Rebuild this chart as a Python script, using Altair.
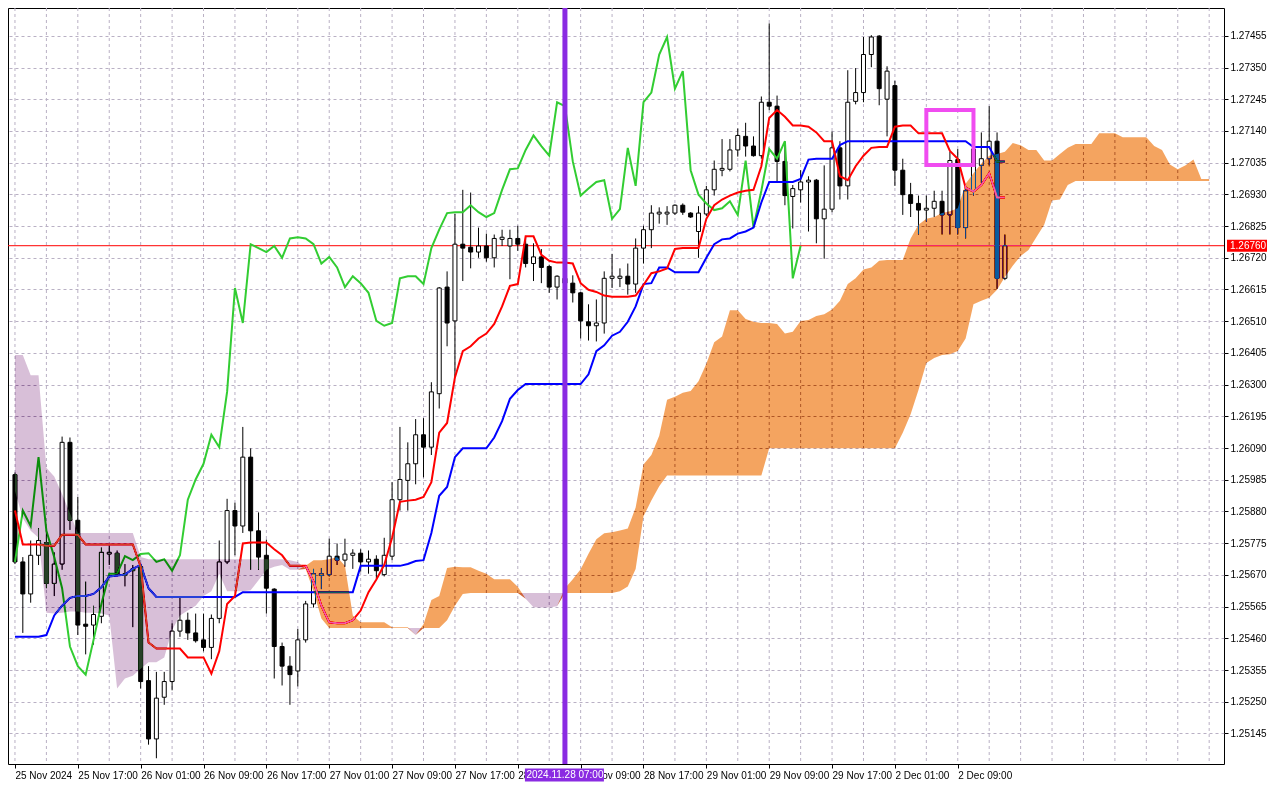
import altair as alt
import pandas as pd

W, H = 1216, 756

opens = [1.26002, 1.25713, 1.25607, 1.25735, 1.25777, 1.25642, 1.25706, 1.26109, 1.25851, 1.25507,
         1.25504, 1.25533, 1.25739, 1.25742, 1.25668, 1.25690, 1.25697, 1.25320, 1.25127, 1.25265,
         1.25317, 1.25484, 1.25520, 1.25478, 1.25455, 1.25430, 1.25526, 1.25713, 1.25883, 1.25832,
         1.26060, 1.25816, 1.25735, 1.25623, 1.25433, 1.25368, 1.25352, 1.25455, 1.25574, 1.25668,
         1.25671, 1.25732, 1.25719, 1.25735, 1.25742, 1.25713, 1.25722, 1.25671, 1.25732, 1.25919,
         1.25983, 1.26038, 1.26134, 1.26093, 1.26270, 1.26623, 1.26511, 1.26765, 1.26755, 1.26739,
         1.26759, 1.26720, 1.26781, 1.26759, 1.26784, 1.26765, 1.26701, 1.26723, 1.26691, 1.26623,
         1.26652, 1.26636, 1.26604, 1.26508, 1.26495, 1.26504, 1.26652, 1.26652, 1.26659, 1.26633,
         1.26752, 1.26813, 1.26865, 1.26865, 1.26868, 1.26894, 1.26868, 1.26807, 1.26865, 1.26945,
         1.27010, 1.27013, 1.27077, 1.27122, 1.27090, 1.27058, 1.27235, 1.27222, 1.27039, 1.26923,
         1.26945, 1.26971, 1.26977, 1.26849, 1.26881, 1.27084, 1.26958, 1.27238, 1.27267, 1.27393,
         1.27454, 1.27245, 1.27290, 1.27010, 1.26929, 1.26900, 1.26878, 1.26884, 1.26907, 1.26862,
         1.27045, 1.26820, 1.26942, 1.27026, 1.27048, 1.27106, 1.26652]

highs = [1.26009, 1.25729, 1.25784, 1.25825, 1.25819, 1.25745, 1.26128, 1.26125, 1.25928, 1.25648,
         1.25568, 1.25761, 1.25767, 1.25751, 1.25706, 1.25703, 1.25706, 1.25368, 1.25349, 1.25349,
         1.25510, 1.25600, 1.25545, 1.25542, 1.25542, 1.25539, 1.25784, 1.25922, 1.25909, 1.26160,
         1.26089, 1.25877, 1.25787, 1.25626, 1.25446, 1.25401, 1.25491, 1.25584, 1.25690, 1.25693,
         1.25790, 1.25774, 1.25790, 1.25755, 1.25755, 1.25751, 1.25735, 1.25793, 1.25977, 1.26160,
         1.26109, 1.26186, 1.26189, 1.26308, 1.26623, 1.26675, 1.26865, 1.26945, 1.26936, 1.26820,
         1.26800, 1.26797, 1.26813, 1.26813, 1.26826, 1.26791, 1.26768, 1.26749, 1.26697, 1.26662,
         1.26672, 1.26662, 1.26607, 1.26566, 1.26582, 1.26675, 1.26733, 1.26685, 1.26701, 1.26784,
         1.26826, 1.26894, 1.26887, 1.26891, 1.26897, 1.26900, 1.26871, 1.26891, 1.26958, 1.27042,
         1.27113, 1.27113, 1.27148, 1.27167, 1.27122, 1.27254, 1.27496, 1.27257, 1.27106, 1.26961,
         1.27010, 1.26990, 1.26981, 1.27026, 1.27138, 1.27106, 1.27341, 1.27348, 1.27451, 1.27457,
         1.27457, 1.27354, 1.27306, 1.27048, 1.26968, 1.26926, 1.26926, 1.26942, 1.26942, 1.27071,
         1.27080, 1.26949, 1.27135, 1.27135, 1.27222, 1.27135, 1.26797]

lows = [1.25706, 1.25478, 1.25578, 1.25703, 1.25626, 1.25600, 1.25687, 1.25819, 1.25471, 1.25407,
        1.25439, 1.25510, 1.25703, 1.25665, 1.25632, 1.25497, 1.25294, 1.25108, 1.25063, 1.25240,
        1.25288, 1.25465, 1.25455, 1.25446, 1.25417, 1.25391, 1.25510, 1.25706, 1.25735, 1.25809,
        1.25687, 1.25687, 1.25542, 1.25327, 1.25304, 1.25240, 1.25301, 1.25446, 1.25562, 1.25623,
        1.25665, 1.25703, 1.25697, 1.25690, 1.25681, 1.25674, 1.25658, 1.25665, 1.25719, 1.25883,
        1.25883, 1.25970, 1.25993, 1.26067, 1.26221, 1.26427, 1.26324, 1.26643, 1.26685, 1.26720,
        1.26707, 1.26688, 1.26759, 1.26649, 1.26743, 1.26688, 1.26643, 1.26636, 1.26604, 1.26582,
        1.26614, 1.26572, 1.26453, 1.26446, 1.26443, 1.26469, 1.26620, 1.26623, 1.26598, 1.26604,
        1.26701, 1.26752, 1.26833, 1.26829, 1.26862, 1.26862, 1.26852, 1.26720, 1.26858, 1.26926,
        1.26990, 1.27006, 1.27055, 1.27055, 1.27055, 1.27048, 1.27209, 1.26974, 1.26894, 1.26817,
        1.26903, 1.26807, 1.26768, 1.26717, 1.26871, 1.26913, 1.26913, 1.27228, 1.27235, 1.27351,
        1.27225, 1.27122, 1.26958, 1.26862, 1.26855, 1.26797, 1.26839, 1.26855, 1.26797, 1.26797,
        1.26797, 1.26784, 1.26926, 1.26968, 1.27026, 1.26617, 1.26646]

closes = [1.25713, 1.25607, 1.25735, 1.25784, 1.25642, 1.25706, 1.26109, 1.25851, 1.25504, 1.25500,
          1.25539, 1.25745, 1.25745, 1.25671, 1.25674, 1.25684, 1.25317, 1.25127, 1.25262, 1.25317,
          1.25484, 1.25520, 1.25478, 1.25452, 1.25430, 1.25526, 1.25713, 1.25883, 1.25832, 1.26060,
          1.25816, 1.25729, 1.25626, 1.25433, 1.25368, 1.25340, 1.25455, 1.25574, 1.25674, 1.25674,
          1.25732, 1.25719, 1.25739, 1.25742, 1.25713, 1.25722, 1.25684, 1.25735, 1.25919, 1.25986,
          1.26038, 1.26134, 1.26093, 1.26276, 1.26620, 1.26504, 1.26765, 1.26752, 1.26739, 1.26759,
          1.26720, 1.26784, 1.26788, 1.26784, 1.26765, 1.26701, 1.26723, 1.26688, 1.26623, 1.26659,
          1.26636, 1.26604, 1.26511, 1.26495, 1.26504, 1.26652, 1.26659, 1.26659, 1.26633, 1.26752,
          1.26813, 1.26868, 1.26871, 1.26871, 1.26894, 1.26871, 1.26855, 1.26868, 1.26945, 1.27013,
          1.27016, 1.27077, 1.27125, 1.27090, 1.27058, 1.27235, 1.27222, 1.27039, 1.26926, 1.26949,
          1.26971, 1.26977, 1.26849, 1.26881, 1.27084, 1.26958, 1.27235, 1.27267, 1.27393, 1.27451,
          1.27280, 1.27338, 1.27010, 1.26929, 1.26900, 1.26878, 1.26884, 1.26907, 1.26862, 1.27042,
          1.26820, 1.26942, 1.27080, 1.27048, 1.27106, 1.26652, 1.26760]

tenkan = [1.25883, 1.25771, 1.25771, 1.25771, 1.25767, 1.25767, 1.25803, 1.25803, 1.25803, 1.25771,
          1.25771, 1.25771, 1.25771, 1.25771, 1.25771, 1.25771, 1.25697, 1.25446, 1.25426, 1.25426,
          1.25426, 1.25426, 1.25397, 1.25397, 1.25397, 1.25343, 1.25417, 1.25574, 1.25600, 1.25774,
          1.25777, 1.25777, 1.25777, 1.25755, 1.25735, 1.25700, 1.25700, 1.25700, 1.25648, 1.25568,
          1.25513, 1.25510, 1.25510, 1.25520, 1.25552, 1.25613, 1.25655, 1.25703, 1.25793, 1.25912,
          1.25916, 1.25919, 1.25928, 1.25977, 1.26141, 1.26173, 1.26324, 1.26411, 1.26427, 1.26453,
          1.26469, 1.26501, 1.26559, 1.26627, 1.26633, 1.26791, 1.26791, 1.26730, 1.26710, 1.26704,
          1.26704, 1.26701, 1.26636, 1.26614, 1.26607, 1.26595, 1.26591, 1.26591, 1.26591, 1.26595,
          1.26630, 1.26669, 1.26675, 1.26685, 1.26749, 1.26752, 1.26752, 1.26752, 1.26849, 1.26894,
          1.26913, 1.26926, 1.26936, 1.26942, 1.26945, 1.27023, 1.27183, 1.27209, 1.27187, 1.27158,
          1.27158, 1.27154, 1.27135, 1.27106, 1.27106, 1.26990, 1.26977, 1.27023, 1.27058, 1.27084,
          1.27087, 1.27087, 1.27154, 1.27158, 1.27158, 1.27132, 1.27132, 1.27132, 1.27132, 1.27074,
          1.27048, 1.26952, 1.26939, 1.26961, 1.27000, 1.26920, 1.26920]

kijun = [1.25465, 1.25465, 1.25465, 1.25465, 1.25471, 1.25536, 1.25568, 1.25594, 1.25600, 1.25600,
         1.25607, 1.25629, 1.25665, 1.25668, 1.25671, 1.25690, 1.25703, 1.25626, 1.25597, 1.25597,
         1.25597, 1.25597, 1.25597, 1.25597, 1.25597, 1.25597, 1.25597, 1.25597, 1.25597, 1.25613,
         1.25613, 1.25613, 1.25613, 1.25613, 1.25613, 1.25613, 1.25613, 1.25613, 1.25613, 1.25613,
         1.25613, 1.25613, 1.25613, 1.25613, 1.25700, 1.25700, 1.25700, 1.25700, 1.25700, 1.25700,
         1.25706, 1.25716, 1.25719, 1.25809, 1.25932, 1.25961, 1.26060, 1.26089, 1.26089, 1.26089,
         1.26089, 1.26125, 1.26179, 1.26253, 1.26282, 1.26302, 1.26302, 1.26302, 1.26302, 1.26302,
         1.26302, 1.26302, 1.26302, 1.26334, 1.26411, 1.26430, 1.26462, 1.26475, 1.26508, 1.26559,
         1.26633, 1.26636, 1.26688, 1.26688, 1.26672, 1.26672, 1.26672, 1.26672, 1.26720, 1.26765,
         1.26781, 1.26784, 1.26800, 1.26807, 1.26820, 1.26903, 1.26971, 1.26971, 1.26971, 1.26971,
         1.26981, 1.27045, 1.27048, 1.27048, 1.27048, 1.27093, 1.27106, 1.27106, 1.27106, 1.27106,
         1.27106, 1.27106, 1.27106, 1.27106, 1.27106, 1.27106, 1.27106, 1.27106, 1.27106, 1.27106,
         1.27106, 1.27106, 1.27087, 1.27087, 1.27087, 1.27039, 1.27039]

span_a = [1.25948, 1.25858, 1.25816, 1.25793, 1.25545, 1.25542, 1.25545, 1.25549, 1.25549, 1.25545,
          1.25545, 1.25542, 1.25536, 1.25294, 1.25327, 1.25336, 1.25359, 1.25381, 1.25381, 1.25397,
          1.25488, 1.25536, 1.25552, 1.25568, 1.25600, 1.25616, 1.25674, 1.25616, 1.25616, 1.25616,
          1.25619, 1.25652, 1.25687, 1.25697, 1.25703, 1.25687, 1.25687, 1.25700, 1.25719, 1.25719,
          1.25722, 1.25729, 1.25700, 1.25536, 1.25513, 1.25513, 1.25513, 1.25513, 1.25497, 1.25497,
          1.25497, 1.25471, 1.25507, 1.25587, 1.25600, 1.25693, 1.25697, 1.25695, 1.25695, 1.25684,
          1.25674, 1.25656, 1.25656, 1.25656, 1.25631, 1.25591, 1.25563, 1.25562, 1.25562, 1.25566,
          1.25626, 1.25656, 1.25689, 1.25740, 1.25788, 1.25808, 1.25811, 1.25817, 1.25824, 1.25893,
          1.26036, 1.26067, 1.26131, 1.26250, 1.26260, 1.26273, 1.26279, 1.26311, 1.26369, 1.26440,
          1.26459, 1.26546, 1.26546, 1.26517, 1.26508, 1.26504, 1.26504, 1.26501, 1.26469, 1.26475,
          1.26511, 1.26514, 1.26527, 1.26533, 1.26549, 1.26578, 1.26633, 1.26652, 1.26681, 1.26688,
          1.26710, 1.26713, 1.26713, 1.26713, 1.26784, 1.26829, 1.26849, 1.26855, 1.26868, 1.26874,
          1.26884, 1.26965, 1.27000, 1.27032, 1.27058, 1.27064, 1.27071, 1.27100, 1.27093, 1.27077,
          1.27077, 1.27042, 1.27042, 1.27064, 1.27084, 1.27097, 1.27097, 1.27097, 1.27132, 1.27132,
          1.27132, 1.27119, 1.27119, 1.27119, 1.27119, 1.27090, 1.27077, 1.27029, 1.27013, 1.27026,
          1.27045, 1.26981, 1.26981]

span_b = [1.26398, 1.26398, 1.26331, 1.26331, 1.26025, 1.25996, 1.25938, 1.25874, 1.25809, 1.25809,
          1.25809, 1.25809, 1.25809, 1.25809, 1.25809, 1.25809, 1.25729, 1.25722, 1.25722, 1.25722,
          1.25722, 1.25722, 1.25722, 1.25722, 1.25722, 1.25722, 1.25722, 1.25722, 1.25722, 1.25722,
          1.25722, 1.25722, 1.25722, 1.25722, 1.25722, 1.25719, 1.25713, 1.25690, 1.25616, 1.25526,
          1.25494, 1.25494, 1.25494, 1.25494, 1.25494, 1.25494, 1.25494, 1.25494, 1.25494, 1.25494,
          1.25494, 1.25494, 1.25494, 1.25494, 1.25494, 1.25520, 1.25568, 1.25607, 1.25610, 1.25610,
          1.25610, 1.25610, 1.25610, 1.25610, 1.25610, 1.25610, 1.25610, 1.25610, 1.25610, 1.25610,
          1.25610, 1.25610, 1.25610, 1.25610, 1.25610, 1.25610, 1.25610, 1.25616, 1.25632, 1.25690,
          1.25864, 1.25916, 1.25964, 1.25999, 1.25999, 1.25999, 1.25999, 1.25999, 1.25999, 1.25999,
          1.25999, 1.25999, 1.25999, 1.25999, 1.25999, 1.25999, 1.26089, 1.26089, 1.26089, 1.26089,
          1.26089, 1.26089, 1.26089, 1.26089, 1.26089, 1.26089, 1.26089, 1.26089, 1.26089, 1.26089,
          1.26089, 1.26089, 1.26089, 1.26141, 1.26202, 1.26282, 1.26372, 1.26388, 1.26398, 1.26401,
          1.26411, 1.26453, 1.26566, 1.26578, 1.26588, 1.26614, 1.26656, 1.26694, 1.26726, 1.26746,
          1.26788, 1.26829, 1.26910, 1.26913, 1.26961, 1.26974, 1.26974, 1.26974, 1.26974, 1.26974,
          1.26974, 1.26974, 1.26974, 1.26974, 1.26974, 1.26974, 1.26974, 1.26974, 1.26974, 1.26974,
          1.26974, 1.26974, 1.26974]

# Chikou span: the closes drawn 26 bars back
chikou = closes[26:]

tick_labels = ["25 Nov 2024", "25 Nov 17:00", "26 Nov 01:00", "26 Nov 09:00", "26 Nov 17:00",
               "27 Nov 01:00", "27 Nov 09:00", "27 Nov 17:00", "28 Nov 01:00", "28 Nov 09:00",
               "28 Nov 17:00", "29 Nov 01:00", "29 Nov 09:00", "29 Nov 17:00", "2 Dec 01:00",
               "2 Dec 09:00"]
y_ticks = [1.25145, 1.25250, 1.25355, 1.25460, 1.25565, 1.25670, 1.25775, 1.25880, 1.25985,
           1.26090, 1.26195, 1.26300, 1.26405, 1.26510, 1.26615, 1.26720, 1.26825, 1.26930,
           1.27035, 1.27140, 1.27245, 1.27350, 1.27455]
last_price = [1.26760]
marker_bar = [70]
marker_text = ["2024.11.28 07:00"]
box_bars = [116.0, 122.0]
box_prices = [1.27209, 1.27027]

GRID = "#b9b0c4"
FONT = "Liberation Sans"

n = len(opens)
candles = pd.DataFrame({"i": list(range(n)), "o": opens, "h": highs, "l": lows, "c": closes})
candles["dir"] = ["up" if c >= o else "down" for o, c in zip(opens, closes)]
lines = pd.DataFrame({"i": list(range(n)), "tenkan": tenkan, "kijun": kijun})
chik = pd.DataFrame({"i": list(range(len(chikou))), "v": chikou})

m = len(span_a)
cloud = pd.DataFrame({
    "i": list(range(m)),
    "o_top": span_a,
    "o_bot": [b if a >= b else a for a, b in zip(span_a, span_b)],
    "p_top": span_b,
    "p_bot": [a if b > a else b for a, b in zip(span_a, span_b)],
})

xs = alt.Scale(domain=[-0.25, 153.25], nice=False, zero=False)
ys = alt.Scale(domain=[1.25044, 1.27547], nice=False, zero=False)

label_expr = "[" + ",".join("'%s'" % s for s in tick_labels) + "][round(datum.value / 8)]"
x_axis = alt.Axis(values=list(range(0, 121, 8)), labelExpr=label_expr, labelAlign="left",
                  labelBaseline="top", labelPadding=2, tickSize=4, grid=False, title=None,
                  labelOverlap=False, labelFlush=False, domain=False)
y_axis = alt.Axis(values=y_ticks, format=".5f", orient="right", tickSize=4, labelPadding=2,
                  grid=True, gridDash=[3, 3], gridColor=GRID, title=None, labelOverlap=False,
                  labelFlush=False, domain=False)


def X(f):
    return alt.X(f, type="quantitative", scale=xs, axis=x_axis)


def Y(f):
    return alt.Y(f, type="quantitative", scale=ys, axis=y_axis)


vgrid = alt.Chart(pd.DataFrame({"i": list(range(0, 153, 4))})).mark_rule(
    color=GRID, strokeDash=[3, 3], strokeWidth=1).encode(x=X("i"))

pline = alt.Chart(pd.DataFrame({"p": last_price})).mark_rule(
    color="#ff0000", strokeWidth=1).encode(y=Y("p"))

wicks = alt.Chart(candles).mark_rule(color="black", strokeWidth=1).encode(
    x=X("i"), y=Y("l"), y2="h")

bodies = alt.Chart(candles).mark_bar(size=4, stroke="black", strokeWidth=1).encode(
    x=X("i"), y=Y("o"), y2="c",
    fill=alt.Fill("dir:N", scale=alt.Scale(domain=["up", "down"], range=["white", "black"]),
                  legend=None))

chik_line = alt.Chart(chik).mark_line(color="#32CD32", strokeWidth=2).encode(x=X("i"), y=Y("v"))
kij_line = alt.Chart(lines).mark_line(color="#0000ff", strokeWidth=2).encode(x=X("i"), y=Y("kijun"))
ten_line = alt.Chart(lines).mark_line(color="#ff0000", strokeWidth=2).encode(x=X("i"), y=Y("tenkan"))

cloud_up = alt.Chart(cloud).mark_area(color="#0B5B9F", blend="difference", opacity=1).encode(
    x=X("i"), y=Y("o_top"), y2="o_bot")
cloud_dn = alt.Chart(cloud).mark_area(color="#274027", blend="difference", opacity=1).encode(
    x=X("i"), y=Y("p_top"), y2="p_bot")

vline = alt.Chart(pd.DataFrame({"i": marker_bar})).mark_rule(
    color="#8A2BE2", strokeWidth=5).encode(x=X("i"))

box = alt.Chart(pd.DataFrame({"x1": [box_bars[0]], "x2": [box_bars[1]],
                              "y1": [box_prices[0]], "y2": [box_prices[1]]})).mark_rect(
    filled=False, stroke="#F04CF0", strokeWidth=4).encode(x=X("x1"), x2="x2", y=Y("y1"), y2="y2")

tag_df = pd.DataFrame({"p": last_price, "t": ["%.5f" % v for v in last_price]})
tag = alt.Chart(tag_df).mark_rule(color="#ff0000", strokeWidth=12).encode(
    x=alt.value(W + 3), x2=alt.value(W + 43), y=Y("p"))
tag_txt = alt.Chart(tag_df).mark_text(color="white", align="left", baseline="middle",
                                      font=FONT, fontSize=10).encode(
    x=alt.value(W + 6), y=Y("p"), text="t:N")

date_df = pd.DataFrame({"i": marker_bar, "t": marker_text})
date_box = alt.Chart(date_df).mark_rule(color="#8A2BE2", strokeWidth=13, xOffset=-40,
                                        x2Offset=39).encode(
    x=X("i"), x2="i", y=alt.value(H + 11))
date_txt = alt.Chart(date_df).mark_text(color="white", align="center", baseline="middle",
                                        font=FONT, fontSize=10).encode(
    x=X("i"), y=alt.value(H + 11), text="t:N")

chart = alt.layer(
    vgrid, pline, wicks, bodies, chik_line, kij_line, ten_line, cloud_up, cloud_dn,
    vline, box, tag, tag_txt, date_box, date_txt
).properties(
    width=W, height=H,
    padding={"left": 0, "top": 0, "right": 48, "bottom": 20},
    autosize=alt.AutoSizeParams(type="none"),
    background="white",
).configure_view(
    stroke="black", strokeWidth=1
).configure_axis(
    labelFont=FONT, labelFontSize=10, labelColor="black", tickColor="black", tickWidth=1
)

chart.save("out.html", embed_options={"renderer": "svg", "actions": False})
